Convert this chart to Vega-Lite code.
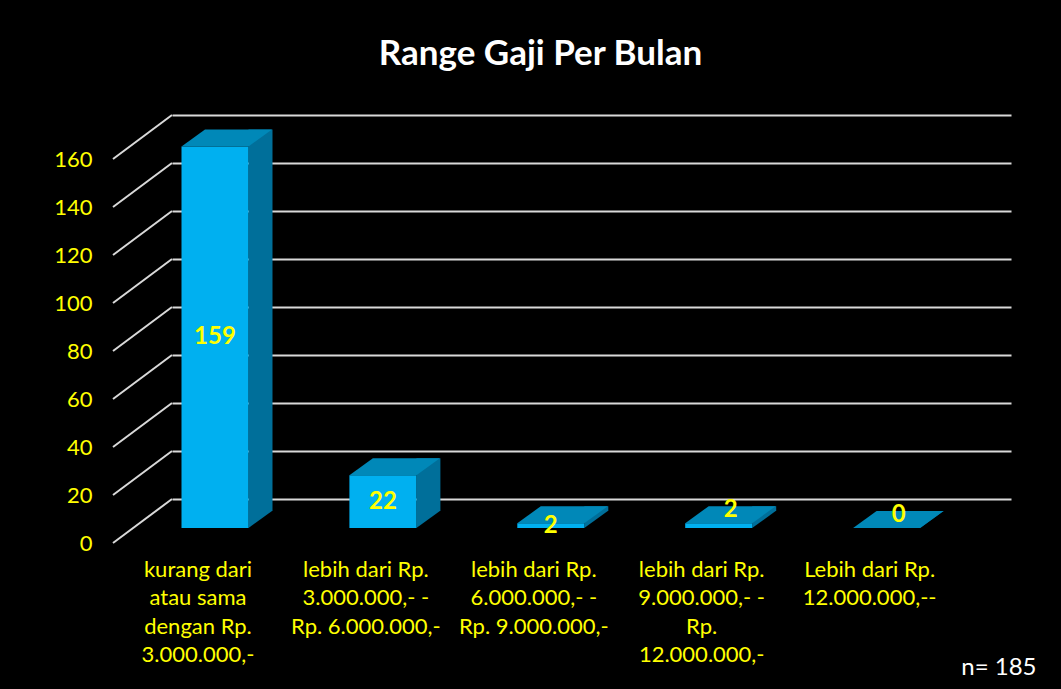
{
  "$schema": "https://vega.github.io/schema/vega-lite/v6.json",
  "autosize": {"type": "none"},
  "width": 839,
  "height": 384,
  "padding": {"left": 172, "top": 115, "right": 50, "bottom": 190},
  "background": "#000000",
  "config": {"view": {"stroke": null}, "font": "Lato"},
  "title": {"text": "Range Gaji Per Bulan", "color": "#FFFFFF", "fontSize": 35, "fontWeight": "bold", "font": "Lato", "anchor": "middle", "dx": -51, "offset": 42},
  "datasets": {
    "gaji": [
      {"kategori": "kurang dari\natau sama\ndengan Rp.\n3.000.000,-", "jumlah": 159},
      {"kategori": "lebih dari Rp.\n3.000.000,- -\nRp. 6.000.000,-", "jumlah": 22},
      {"kategori": "lebih dari Rp.\n6.000.000,- -\nRp. 9.000.000,-", "jumlah": 2},
      {"kategori": "lebih dari Rp.\n9.000.000,- -\nRp.\n12.000.000,-", "jumlah": 2},
      {"kategori": "Lebih dari Rp.\n12.000.000,--", "jumlah": 0}
    ],
    "ticks": [{"t": 0}, {"t": 20}, {"t": 40}, {"t": 60}, {"t": 80}, {"t": 100}, {"t": 120}, {"t": 140}, {"t": 160}]
  },
  "layer": [
    {
      "layer": [
        {
          "data": {"name": "ticks"},
          "mark": {"type": "rule", "color": "#D9D9D9", "strokeWidth": 2, "xOffset": -59, "yOffset": 44},
          "encoding": {
            "x": {"value": 0},
            "x2": {"value": 0},
            "y": {
              "field": "t", "type": "quantitative",
              "scale": {"domain": [0, 160], "nice": false, "zero": true},
              "axis": {
                "title": null, "values": [0, 20, 40, 60, 80, 100, 120, 140, 160],
                "grid": true, "gridColor": "#D9D9D9", "gridWidth": 2,
                "labelColor": "#FFFF00", "labelFontSize": 22, "labelOffset": 44, "labelPadding": 80,
                "ticks": false, "tickSize": 0, "domain": false, "labelFlush": false, "labelOverlap": false
              }
            },
            "y2": {"field": "t"}
          }
        },
        {
          "data": {"name": "gaji"},
          "mark": {"type": "bar", "color": "#006F9A", "width": 24, "xOffset": 45.5, "yOffset": 12, "y2Offset": 12},
          "encoding": {
            "x": {"field": "kategori", "type": "nominal", "sort": null},
            "y": {"field": "jumlah", "type": "quantitative"}
          }
        },
        {
          "data": {"name": "gaji"},
          "mark": {"type": "point", "shape": "M33.5,0 L33.5,-17 L57,-17 Z", "size": 4, "filled": true, "opacity": 1, "color": "#006F9A", "strokeWidth": 0, "yOffset": 29},
          "encoding": {
            "x": {"field": "kategori", "type": "nominal", "sort": null},
            "y": {"datum": 0, "type": "quantitative"}
          }
        },
        {
          "data": {"name": "gaji"},
          "mark": {"type": "bar", "color": "#00B0F0", "yOffset": 29, "y2Offset": 29},
          "encoding": {
            "x": {
              "field": "kategori", "type": "nominal", "sort": null,
              "scale": {"paddingInner": 0.601, "paddingOuter": 0.299, "align": 0.0946},
              "axis": {
                "title": "n= 185", "labelExpr": "split(datum.label, '\\n')",
                "labelColor": "#FFFF00", "labelFontSize": 22, "labelLineHeight": 28.5, "labelPadding": 60,
                "labelOffset": -17, "labelAlign": "center", "labelBaseline": "top", "labelAngle": 0, "labelLimit": 300,
                "ticks": false, "domain": false, "labelOverlap": false,
                "titleColor": "#FFFFFF", "titleFontSize": 24, "titleFontWeight": "normal",
                "titleAnchor": "end", "titleAlign": "right", "titleX": 864, "titleY": 168, "titleBaseline": "middle"
              }
            },
            "y": {"field": "jumlah", "type": "quantitative"}
          }
        },
        {
          "data": {"name": "gaji"},
          "mark": {"type": "point", "shape": "M-33.5,0 L33.5,0 L57,-17 L-10,-17 Z", "size": 4, "filled": true, "opacity": 1, "color": "#0088B8", "strokeWidth": 0, "yOffset": 29},
          "encoding": {
            "x": {"field": "kategori", "type": "nominal", "sort": null},
            "y": {"field": "jumlah", "type": "quantitative"}
          }
        },
        {
          "data": {"name": "gaji"},
          "transform": [{"filter": {"field": "kategori", "oneOf": ["lebih dari Rp.\n9.000.000,- -\nRp.\n12.000.000,-", "Lebih dari Rp.\n12.000.000,--"]}}],
          "mark": {"type": "text", "color": "#FFFF00", "fontSize": 24, "fontWeight": "bold", "baseline": "middle", "xOffset": 12, "yOffset": 16},
          "encoding": {
            "x": {"field": "kategori", "type": "nominal", "sort": null},
            "y": {"field": "jumlah", "type": "quantitative"},
            "text": {"field": "jumlah", "type": "quantitative"}
          }
        }
      ]
    },
    {
      "data": {"name": "gaji"},
      "transform": [{"filter": {"field": "kategori", "oneOf": ["kurang dari\natau sama\ndengan Rp.\n3.000.000,-", "lebih dari Rp.\n3.000.000,- -\nRp. 6.000.000,-", "lebih dari Rp.\n6.000.000,- -\nRp. 9.000.000,-"]}}],
      "mark": {"type": "text", "color": "#FFFF00", "fontSize": 24, "fontWeight": "bold", "baseline": "middle", "yOffset": 29},
      "encoding": {
        "x": {"field": "kategori", "type": "nominal", "sort": null},
        "y": {"field": "jumlah", "type": "quantitative", "scale": {"domain": [0, 320], "nice": false}, "axis": null},
        "text": {"field": "jumlah", "type": "quantitative"}
      }
    }
  ],
  "resolve": {"scale": {"y": "independent"}}
}
